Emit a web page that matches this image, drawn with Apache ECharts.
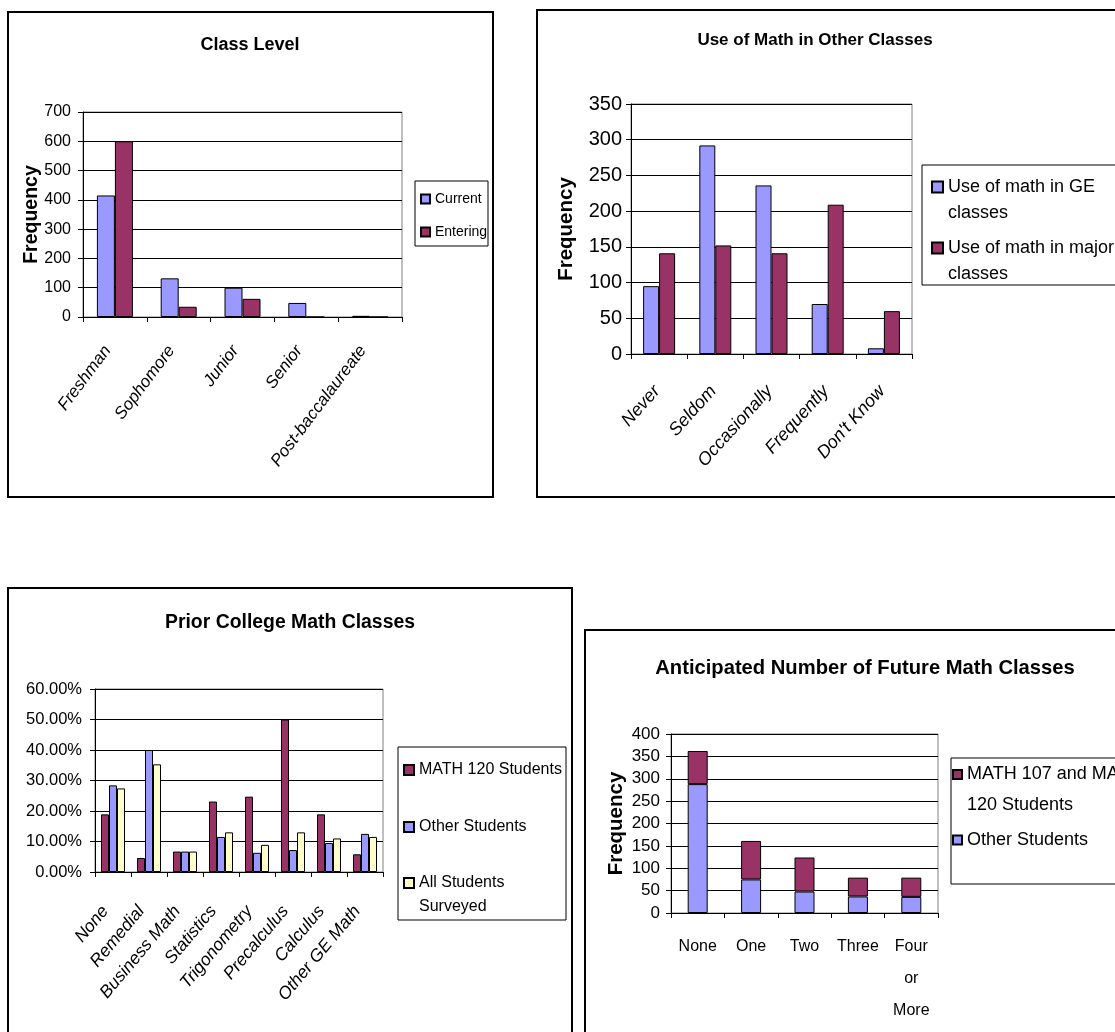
<!DOCTYPE html>
<html>
<head>
<meta charset="utf-8">
<script src="https://cdn.jsdelivr.net/npm/echarts@6/dist/echarts.min.js"></script>
<style>
  body { margin: 0; background: #fff; }
  #main { width: 1115px; height: 1032px; }
</style>
</head>
<body>
<div id="main"></div>
<script>
// Class Level
var levelCats = ['Freshman', 'Sophomore', 'Junior', 'Senior', 'Post-baccalaureate'];
var levelCurrent = [415, 132, 100, 48, 4];
var levelEntering = [600, 35, 62, 0, 0];

// Use of Math in Other Classes
var useCats = ['Never', 'Seldom', 'Occasionally', 'Frequently', "Don't Know"];
var useGE = [95, 292, 236, 70, 8];
var useMajor = [141, 152, 141, 209, 60];

// Prior College Math Classes (percent)
var priorCats = ['None', 'Remedial', 'Business Math', 'Statistics', 'Trigonometry', 'Precalculus', 'Calculus', 'Other GE Math'];
var prior120 = [18.9, 4.6, 6.7, 23.1, 24.7, 50.0, 18.9, 5.8];
var priorOther = [28.4, 40.0, 6.7, 11.5, 6.3, 7.2, 9.5, 12.5];
var priorAll = [27.4, 35.3, 6.7, 13.0, 8.9, 13.0, 11.0, 11.5];

// Anticipated Number of Future Math Classes
var futureCats = ['None', 'One', 'Two', 'Three', 'Four\nor\nMore'];
var futureOther = [288, 75, 48, 37, 36];
var future107 = [74, 86, 76, 42, 43];

var FONT = 'Arial, "Liberation Sans", sans-serif';
var BLUE = '#9999FF', MAROON = '#993366', CREAM = '#FFFFCC';

function catAxis(gi, cats, label) {
    return {
        type: 'category', gridIndex: gi, data: cats,
        axisLine: { lineStyle: { color: '#000', width: 1 } },
        axisTick: { show: true, length: 5, interval: 0, lineStyle: { color: '#000' } },
        axisLabel: Object.assign({ interval: 0, color: '#000', fontFamily: FONT }, label),
        splitLine: { show: false }
    };
}

function valAxis(gi, max, interval, label, name, nameGap, nameSize) {
    return {
        type: 'value', gridIndex: gi, min: 0, max: max, interval: interval,
        axisLine: { show: true, lineStyle: { color: '#000', width: 1 } },
        axisTick: { show: true, length: 5, lineStyle: { color: '#000' } },
        axisLabel: Object.assign({ color: '#000', fontFamily: FONT }, label),
        splitLine: { show: true, lineStyle: { color: '#000', width: 1 } },
        name: name, nameLocation: 'middle', nameRotate: 90, nameGap: nameGap,
        nameMoveOverlap: false,
        nameTextStyle: { fontWeight: 'bold', fontSize: nameSize, color: '#000', fontFamily: FONT }
    };
}

function bars(name, gi, data, color, width, stack) {
    return {
        type: 'bar', name: name, xAxisIndex: gi, yAxisIndex: gi, data: data,
        barWidth: width, barGap: '0%', stack: stack,
        itemStyle: { color: color, borderColor: '#000', borderWidth: 1 },
        emphasis: { disabled: true }
    };
}

function gridAt(left, top, width, height) {
    return {
        left: left, top: top, width: width, height: height,
        show: true, borderColor: '#808080', borderWidth: 1,
        containLabel: false, outerBoundsMode: 'none'
    };
}

function titleAt(text, x, top, size) {
    return {
        text: text, left: x, top: top, textAlign: 'center', padding: 0,
        textStyle: { fontSize: size, fontWeight: 'bold', color: '#000', fontFamily: FONT }
    };
}

function legendAt(names, left, top, size, lineHeight, icon, extra) {
    return Object.assign({
        data: names, orient: 'vertical', left: left, top: top, padding: 0,
        itemWidth: icon, itemHeight: icon, icon: 'rect', selectedMode: false,
        textStyle: { fontSize: size, lineHeight: lineHeight, color: '#000', fontFamily: FONT }
    }, extra);
}

function boxAt(x, y, w, h, lw) {
    return {
        type: 'rect', silent: true, shape: { x: x, y: y, width: w, height: h },
        style: { fill: 'none', stroke: '#000', lineWidth: lw }
    };
}

var chart = echarts.init(document.getElementById('main'), null, { renderer: 'canvas' });

var option = {
    animation: false,
    backgroundColor: '#fff',
    textStyle: { fontFamily: FONT },
    title: [
        titleAt('Class Level', 250, 36, 18),
        titleAt('Use of Math in Other Classes', 815, 32, 17),
        titleAt('Prior College Math Classes', 290, 613, 19.4),
        titleAt('Anticipated Number of Future Math Classes', 865, 658, 20.2)
    ],
    grid: [
        gridAt(83, 112, 319, 205),
        gridAt(631, 104, 281, 250),
        gridAt(95, 689, 288, 183),
        gridAt(671, 734, 267, 179)
    ],
    xAxis: [
        catAxis(0, levelCats, { rotate: 53, margin: 21, padding: [0, 12, 0, 0], fontStyle: 'italic', fontSize: 17 }),
        catAxis(1, useCats, { rotate: 48, margin: 32, padding: [0, 3, 0, 0], fontStyle: 'italic', fontSize: 18 }),
        catAxis(2, priorCats, { rotate: 50, margin: 27, padding: [0, 12, 0, 0], fontStyle: 'italic', fontSize: 17.5 }),
        catAxis(3, futureCats, { margin: 18, fontSize: 16, lineHeight: 32 })
    ],
    yAxis: [
        valAxis(0, 700, 100, { fontSize: 16, margin: 12 }, 'Frequency', 41, 19.5),
        valAxis(1, 350, 50, { fontSize: 20, margin: 9 }, 'Frequency', 54, 20.5),
        valAxis(2, 60, 10, { fontSize: 16.5, margin: 13, formatter: function (v) { return v.toFixed(2) + '%'; } }, '', 0, 12),
        valAxis(3, 400, 50, { fontSize: 17, margin: 11 }, 'Frequency', 44, 20.5)
    ],
    legend: [
        legendAt(['Current', 'Entering'], 420, 192, 14, 14, 9, { itemGap: 19 }),
        legendAt(['Use of math in GE classes'], 931, 148, 18, 26, 11,
            { formatter: function () { return '\nUse of math in GE\nclasses'; } }),
        legendAt(['Use of math in major classes'], 931, 209, 18, 26, 11,
            { formatter: function () { return '\nUse of math in major\nclasses'; } }),
        legendAt(['MATH 120 Students'], 403, 758, 16, 24, 10, {}),
        legendAt(['Other Students'], 403, 815, 16, 24, 10, {}),
        legendAt(['All Students Surveyed'], 403, 847, 16, 24, 10,
            { formatter: function () { return '\nAll Students\nSurveyed'; } }),
        legendAt(['MATH 107 and MATH 120 Students'], 952, 728, 18, 31, 9,
            { formatter: function () { return '\nMATH 107 and MATH\n120 Students'; } }),
        legendAt(['Other Students'], 952, 825, 18, 30, 9, {})
    ],
    graphic: [
        boxAt(8, 12, 485, 485, 2),
        boxAt(537, 10, 600, 487, 2),
        boxAt(8, 588, 564, 460, 2),
        boxAt(585, 630, 560, 420, 2),
        boxAt(415, 181, 73, 65, 1),
        boxAt(922, 165, 210, 120, 1),
        boxAt(398, 747, 168, 173, 1),
        boxAt(951, 758, 200, 126, 1)
    ],
    series: [
        bars('Current', 0, levelCurrent, BLUE, 18),
        bars('Entering', 0, levelEntering, MAROON, 18),
        bars('Use of math in GE classes', 1, useGE, BLUE, 16),
        bars('Use of math in major classes', 1, useMajor, MAROON, 16),
        bars('MATH 120 Students', 2, prior120, MAROON, 8),
        bars('Other Students', 2, priorOther, BLUE, 8),
        bars('All Students Surveyed', 2, priorAll, CREAM, 8),
        bars('Other Students', 3, futureOther, BLUE, 20, 'future'),
        bars('MATH 107 and MATH 120 Students', 3, future107, MAROON, 20, 'future')
    ]
};

chart.setOption(option);
</script>
</body>
</html>
